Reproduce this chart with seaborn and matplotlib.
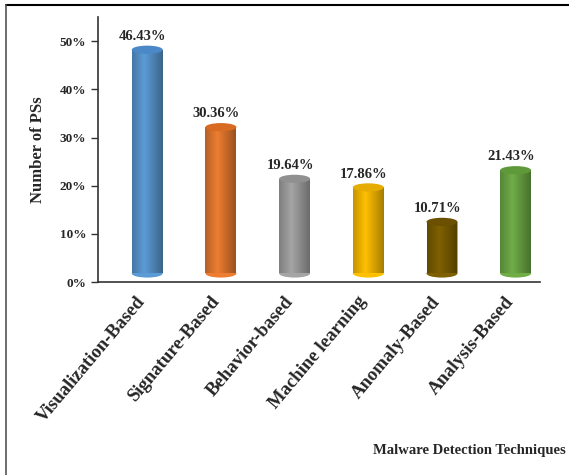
import matplotlib
matplotlib.use("Agg")
import matplotlib.pyplot as plt
from matplotlib.patches import Ellipse
from matplotlib.lines import Line2D
import seaborn as sns
import numpy as np
import pandas as pd

# chart data
techniques = ["Visualization-Based", "Signature-Based", "Behavior-based",
              "Machine learning", "Anomaly-Based", "Analysis-Based"]
shares = [46.43, 30.36, 19.64, 17.86, 10.71, 21.43]
value_labels = ["46.43%", "30.36%", "19.64%", "17.86%", "10.71%", "21.43%"]
bar_colors = ["#5b9bd5", "#ed7d31", "#a5a5a5", "#ffc000", "#7f6000", "#70ad47"]
cap_colors = ["#4a88c8", "#d86a22", "#909090", "#e6ad00", "#6a5000", "#5f9a3a"]
yticks = [0, 10, 20, 30, 40, 50]

sns.set_style("white")
plt.rcParams["font.family"] = ["Liberation Serif", "DejaVu Serif"]
plt.rcParams["font.weight"] = "bold"

df = pd.DataFrame({"technique": techniques, "share": shares})

fig = plt.figure(figsize=(5.69, 4.75), dpi=100)
ax = fig.add_axes([0.172, 0.406, 0.777, 0.558])

lift = 1.8   # 3D depth offset of the cylinders
skew = 0.17  # bars sit a bit right of the category centre (3D look)
bw = 0.42
sns.barplot(data=df, x="technique", y="share", hue="technique",
            palette=bar_colors, saturation=1, width=bw, legend=False, ax=ax,
            bottom=lift, linewidth=0, zorder=2)

# cylinder shading: light band left of centre, darker edges
shade = np.linspace(0, 1, 64)
alpha = np.clip(0.35 * np.abs(shade - 0.4) / 0.6, 0, 0.35)
rgba = np.zeros((1, 64, 4))
rgba[0, :, 3] = alpha
for p in list(ax.patches):
    x0, w = p.get_x(), p.get_width()
    y0, h = p.get_y(), p.get_height()
    im = ax.imshow(rgba, extent=[x0, x0 + w, y0, y0 + h], aspect="auto",
                   interpolation="bicubic", zorder=2.5)
    im.set_clip_path(p)

cap_h = 1.7
for i, (v, fc, cc, lab) in enumerate(zip(shares, bar_colors, cap_colors, value_labels)):
    ax.add_patch(Ellipse((i, lift), bw, cap_h, facecolor=fc, edgecolor="none", zorder=1.5))
    ax.add_patch(Ellipse((i, lift + v), bw, cap_h, facecolor=cc, edgecolor="none", zorder=3))
    ax.text(i - 0.06, lift + v + 1.4, lab, ha="center", va="bottom",
            fontsize=10.5, fontweight="bold", zorder=4)

n = len(techniques)
ax.set_xlim(-0.5 - skew, n - 0.5 - skew)
ax.set_ylim(0, 55)
ax.set_yticks(yticks)
ax.set_yticklabels([f"{t}%" for t in yticks], fontsize=9.5, fontweight="bold")
# labels anchored a little left of each cylinder, as in the original
ax.set_xticks([i - 0.15 for i in range(n)])
ax.set_xticklabels(techniques, rotation=50, ha="right", rotation_mode="anchor",
                   fontsize=13.5, fontweight="bold")
ax.set_xticks([i - 0.5 - skew for i in range(n + 1)], minor=True)
ax.tick_params(axis="x", which="major", length=0, pad=8)
ax.tick_params(axis="x", which="minor", length=5, width=1, color="#333333", direction="out")
ax.tick_params(axis="y", length=5, width=1, color="#333333", direction="out", left=True)

ax.set_xlabel("")
ax.set_ylabel("Number of PSs", fontsize=12, fontweight="bold", labelpad=10)
for s in ["top", "right"]:
    ax.spines[s].set_visible(False)
for s in ["left", "bottom"]:
    ax.spines[s].set_color("#333333")
    ax.spines[s].set_linewidth(1.2)

fig.text(0.655, 0.052, "Malware Detection Techniques", fontsize=10.5,
         fontweight="bold", ha="left", va="center")

# frame lines of the original figure
fig.add_artist(Line2D([0.011, 1.0], [0.989, 0.989], color="black", lw=1.5, transform=fig.transFigure))
fig.add_artist(Line2D([0.011, 0.011], [0.0, 0.989], color="#555555", lw=1.2, transform=fig.transFigure))

fig.savefig("out.png", dpi=100)
